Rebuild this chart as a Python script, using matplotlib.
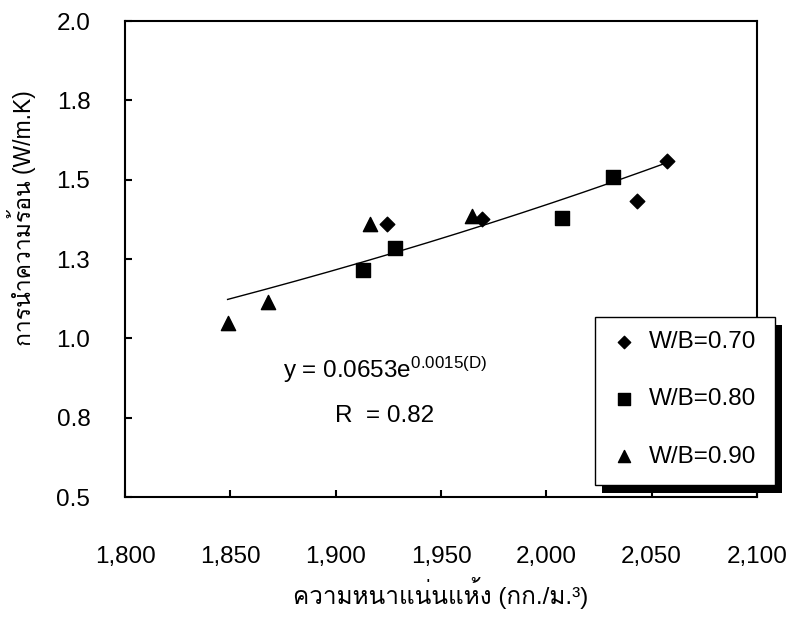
import numpy as np
import matplotlib
matplotlib.use("Agg")
import matplotlib.pyplot as plt
from matplotlib import font_manager
from matplotlib.patches import Rectangle

# ---------------- data ----------------
wb70_x = [1924.5, 1969.3, 2042.9, 2057.1]
wb70_y = [1.359, 1.376, 1.434, 1.559]
wb80_x = [1913.1, 1928.2, 2007.3, 2031.8]
wb80_y = [1.215, 1.284, 1.378, 1.507]
wb90_x = [1848.7, 1868.0, 1916.3, 1964.6]
wb90_y = [1.047, 1.115, 1.359, 1.385]
series_labels = ["W/B=0.70", "W/B=0.80", "W/B=0.90"]
x_ticks = [1800, 1850, 1900, 1950, 2000, 2050, 2100]
x_tick_labels = ["1,800", "1,850", "1,900", "1,950", "2,000", "2,050", "2,100"]
y_ticks = [0.5, 0.75, 1.0, 1.25, 1.5, 1.75, 2.0]
y_tick_labels = ["0.5", "0.8", "1.0", "1.3", "1.5", "1.8", "2.0"]
x_label = "ความหนาแน่นแห้ง (กก./ม.³)"
y_label = "การนำความร้อน (W/m.K)"
eq_text = "y = 0.0653e$^{0.0015(D)}$"
r_text = "R  = 0.82"

# ---------------- fonts ----------------
latin = "Liberation Sans"
thai_font = None
try:
    from fontTools.ttLib import TTFont
    for f in font_manager.fontManager.ttflist:
        try:
            tt = TTFont(f.fname, fontNumber=0, lazy=True)
            cmap = tt.getBestCmap()
            if cmap and 0x0E01 in cmap and 0x0E19 in cmap:
                thai_font = f.name
                break
        except Exception:
            pass
except Exception:
    pass
fams = [latin] + ([thai_font] if thai_font else []) + ["DejaVu Sans"]
plt.rcParams["font.family"] = fams
plt.rcParams["mathtext.fontset"] = "custom"
plt.rcParams["mathtext.rm"] = latin
plt.rcParams["mathtext.it"] = latin
plt.rcParams["mathtext.bf"] = latin

FS = 17.5
W, H = 791, 617

fig = plt.figure(figsize=(W / 100, H / 100), dpi=100)
ax = fig.add_axes([125 / W, 1 - 497 / H, 632 / W, 476 / H])

ax.scatter(wb70_x, wb70_y, marker="D", s=55, color="black", zorder=3, label=series_labels[0])
ax.scatter(wb80_x, wb80_y, marker="s", s=95, color="black", zorder=3, label=series_labels[1])
ax.scatter(wb90_x, wb90_y, marker="^", s=105, color="black", zorder=3, label=series_labels[2])

# exponential trend line fitted to all points
all_x = np.array(wb70_x + wb80_x + wb90_x)
all_y = np.array(wb70_y + wb80_y + wb90_y)
b, lna = np.polyfit(all_x, np.log(all_y), 1)
xx = np.linspace(all_x.min(), all_x.max(), 200)
ax.plot(xx, np.exp(lna) * np.exp(b * xx), color="black", lw=1.0, zorder=2)

ax.set_xlim(1800, 2100)
ax.set_ylim(0.5, 2.0)
ax.set_xticks(x_ticks)
ax.set_xticklabels(x_tick_labels)
ax.set_yticks(y_ticks)
ax.set_yticklabels(y_tick_labels)
ax.tick_params(axis="both", direction="in", length=5, width=1.5, labelsize=FS, colors="black")
ax.tick_params(axis="x", pad=35)
ax.tick_params(axis="y", pad=25)
for s in ax.spines.values():
    s.set_linewidth(1.5)
    s.set_color("black")

ax.set_xlabel(x_label, fontsize=FS)
ax.xaxis.set_label_coords(0.5, (497 - 577) / 476)
ax.set_ylabel(y_label, fontsize=16.5)
ax.yaxis.set_label_coords((36 - 125) / 632, (497 - 218) / 476)

ax.text(1875, 0.900, eq_text, fontsize=FS, ha="left", va="center")
ax.text(1899.5, 0.755, r_text, fontsize=FS, ha="left", va="center")

# legend box with shadow (figure-pixel geometry)
bx0, by0, bx1, by1 = 595, 317, 775, 485
shadow = Rectangle(((bx0 + 7) / W, 1 - (by1 + 8) / H), (bx1 - bx0) / W, (by1 - by0) / H,
                   transform=fig.transFigure, facecolor="black", edgecolor="none",
                   zorder=5, clip_on=False)
box = Rectangle((bx0 / W, 1 - by1 / H), (bx1 - bx0) / W, (by1 - by0) / H,
                transform=fig.transFigure, facecolor="white", edgecolor="black", lw=1.0,
                zorder=6, clip_on=False)
ax.add_artist(shadow)
ax.add_artist(box)

leg = ax.legend(loc="upper left", bbox_to_anchor=(612 / W, 1 - 331 / H),
                bbox_transform=fig.transFigure, frameon=False, fontsize=FS,
                handletextpad=0.5, labelspacing=1.45, borderpad=0, handlelength=1.0,
                borderaxespad=0, markerscale=0.85)
leg.set_zorder(7)

fig.savefig("out.png", dpi=100)
